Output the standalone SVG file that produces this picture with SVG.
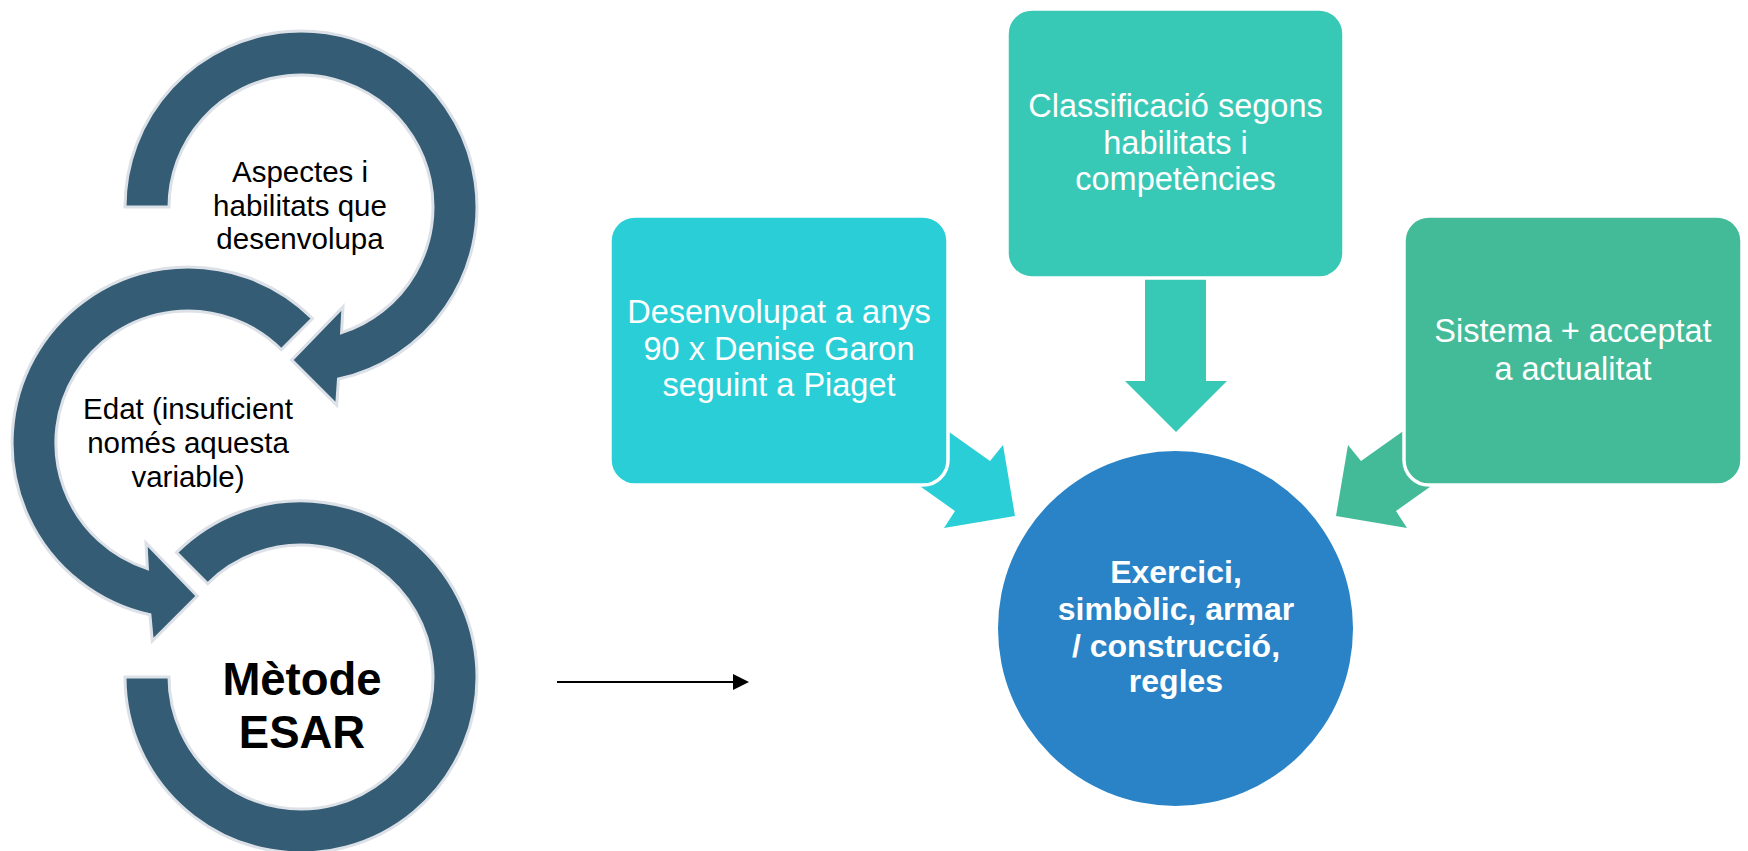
<svg xmlns="http://www.w3.org/2000/svg" width="1748" height="851" viewBox="0 0 1748 851">
  <defs>
    <style>
      .ring { fill: #355C75; stroke: #DCE1E7; stroke-width: 3; stroke-linejoin: miter; }
      .ringtxt { font-family: "Liberation Sans", Arial, sans-serif; font-size: 29.5px; fill: #000; text-anchor: middle; }
      .esar { font-family: "Liberation Sans", Arial, sans-serif; font-size: 45.5px; font-weight: bold; fill: #000; text-anchor: middle; }
      .box { stroke: #FFFFFF; stroke-width: 3.5; }
      .boxtxt { font-family: "Liberation Sans", Arial, sans-serif; font-size: 32.5px; fill: #FFFFFF; text-anchor: middle; }
      .circtxt { font-family: "Liberation Sans", Arial, sans-serif; font-size: 32px; font-weight: bold; fill: #FFFFFF; text-anchor: middle; }
      .cyan { fill: #2ACED7; }
      .teal { fill: #38C8B6; }
      .green { fill: #44BB98; }
    </style>
    <marker id="blackhead" viewBox="0 0 16 16" refX="1" refY="8" markerWidth="16" markerHeight="16" markerUnits="userSpaceOnUse" orient="auto">
      <path d="M0,0 L16,8 L0,16 Z" fill="#000"/>
    </marker>
  </defs>
  <rect width="1748" height="851" fill="#FFFFFF"/>

  <!-- Connectors -->
  <g id="connectors">
    <polygon class="cyan" points="892,391.5 990,461 1003,445 1015,516 944,528 955,511 857,441.5"/>
    <polygon class="teal" points="1145,268 1206,268 1206,381 1227,381 1176,432 1125,381 1145,381"/>
    <polygon class="green" points="1459,391.5 1361,461 1348,445 1336,516 1407,528 1396,511 1494,441.5"/>
    <line x1="557" y1="682" x2="734" y2="682" stroke="#000" stroke-width="2" marker-end="url(#blackhead)"/>
  </g>

  <!-- Circular arrows -->
  <g id="ring-top">
    <path class="ring" d="M125,207 A176,176 0 1 1 338.5,379 L336.7,405 L291.7,360 L343,307 L341.6,332.6 A132,132 0 1 0 169,207 Z"/>
    <text class="ringtxt" x="300" y="182">Aspectes i</text>
    <text class="ringtxt" x="300" y="215.5">habilitats que</text>
    <text class="ringtxt" x="300" y="249">desenvolupa</text>
  </g>
  <g id="ring-mid">
    <path class="ring" d="M312.5,318.5 A176,176 0 1 0 149.9,614.8 L152.3,641 L197.3,596 L146,543 L147.4,568.6 A132,132 0 1 1 281.3,349.7 Z"/>
    <text class="ringtxt" x="188" y="419">Edat (insuficient</text>
    <text class="ringtxt" x="188" y="453">només aquesta</text>
    <text class="ringtxt" x="188" y="487">variable)</text>
  </g>
  <g id="ring-bottom">
    <path class="ring" d="M176.5,552.5 A176,176 0 1 1 125,677 L169,677 A132,132 0 1 0 207.7,583.7 Z"/>
    <text class="esar" x="302" y="695">Mètode</text>
    <text class="esar" x="302" y="748">ESAR</text>
  </g>

  <!-- Boxes -->
  <g id="box-left">
    <rect class="box cyan" x="610" y="216" width="338" height="269" rx="25" ry="25"/>
    <text class="boxtxt" x="779" y="323">Desenvolupat a anys</text>
    <text class="boxtxt" x="779" y="359.5">90 x Denise Garon</text>
    <text class="boxtxt" x="779" y="396">seguint a Piaget</text>
  </g>
  <g id="box-top">
    <rect class="box teal" x="1007" y="9" width="337" height="269" rx="25" ry="25"/>
    <text class="boxtxt" x="1175.5" y="117">Classificació segons</text>
    <text class="boxtxt" x="1175.5" y="153.5">habilitats i</text>
    <text class="boxtxt" x="1175.5" y="190">competències</text>
  </g>
  <g id="box-right">
    <rect class="box green" x="1404" y="216" width="338" height="269" rx="25" ry="25"/>
    <text class="boxtxt" x="1573" y="342">Sistema + acceptat</text>
    <text class="boxtxt" x="1573" y="380">a actualitat</text>
  </g>
  <g id="center-circle">
    <circle cx="1175.5" cy="628.5" r="177.5" fill="#2983C6"/>
    <text class="circtxt" x="1176" y="583">Exercici,</text>
    <text class="circtxt" x="1176" y="620">simbòlic, armar</text>
    <text class="circtxt" x="1176" y="657">/ construcció,</text>
    <text class="circtxt" x="1176" y="692">regles</text>
  </g>
</svg>
